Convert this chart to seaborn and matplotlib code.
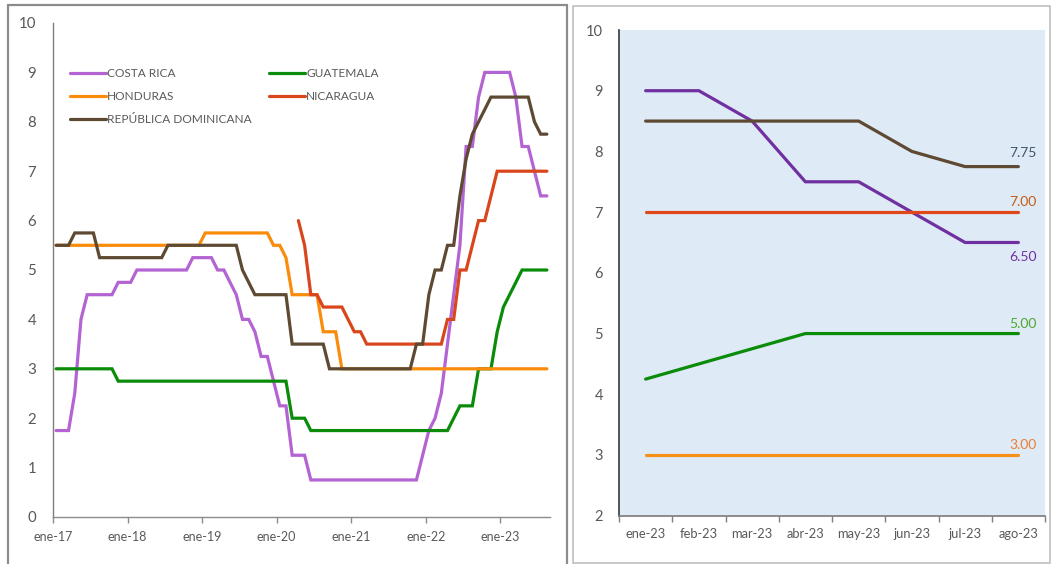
import numpy as np
import pandas as pd
import matplotlib
matplotlib.use("Agg")
import matplotlib.pyplot as plt
from matplotlib.patches import Rectangle
import seaborn as sns

# ---------------- data ----------------
nan = np.nan
year_labels = ["ene-17", "ene-18", "ene-19", "ene-20", "ene-21", "ene-22", "ene-23"]
month_labels = ["ene-23", "feb-23", "mar-23", "abr-23", "may-23", "jun-23", "jul-23", "ago-23"]

costa_rica = ([1.75] * 3 + [2.5, 4.0] + [4.5] * 5 + [4.75] * 3 + [5.0] * 9 + [5.25] * 4 +
              [5.0] * 2 + [4.75, 4.5] + [4.0] * 2 + [3.75] + [3.25] * 2 + [2.75] + [2.25] * 2 +
              [1.25] * 3 + [0.75] * 18 +
              [1.25, 1.75, 2.0, 2.5, 3.5, 4.5, 5.5, 7.5, 7.5, 8.5, 9.0, 9.0, 9.0, 9.0, 9.0,
               8.5, 7.5, 7.5, 7.0, 6.5, 6.5])
guatemala = ([3.0] * 10 + [2.75] * 28 + [2.0] * 3 + [1.75] * 23 + [2.0] + [2.25] * 3 +
             [3.0] * 3 + [3.75, 4.25, 4.5, 4.75] + [5.0] * 5)
honduras = ([5.5] * 24 + [5.75] * 11 + [5.5] * 2 + [5.25] + [4.5] * 5 + [3.75] * 3 + [3.0] * 34)
nicaragua = ([nan] * 39 + [6.0, 5.5] + [4.5] * 2 + [4.25] * 4 + [4.0] + [3.75] * 2 + [3.5] * 13 +
             [4.0] * 2 + [5.0] * 2 + [5.5] + [6.0] * 2 + [6.5] + [7.0] * 9)
rep_dominicana = ([5.5] * 3 + [5.75] * 4 + [5.25] * 11 + [5.5] * 12 + [5.0, 4.75] + [4.5] * 6 +
                  [3.5] * 6 + [3.0] * 14 + [3.5] * 2 + [4.5] + [5.0] * 2 + [5.5] * 2 +
                  [6.5, 7.25, 7.75, 8.0, 8.25] + [8.5] * 7 + [8.0] + [7.75] * 2)

series_names = ["COSTA RICA", "GUATEMALA", "HONDURAS", "NICARAGUA", "REPÚBLICA DOMINICANA"]
series_values = [costa_rica, guatemala, honduras, nicaragua, rep_dominicana]
left_colors = ["#B463D3", "#0A8C0A", "#FA8C0C", "#D9461C", "#5E4A32"]
right_colors = ["#7030A0", "#0A8C0A", "#F7901A", "#E0481A", "#5E4A32"]
label_colors = ["#7030A0", "#4EA72E", "#ED7D31", "#C55A11", "#44546A"]
label_offsets = [-10.5, 7.0, 7.0, 7.5, 9.5]

n_months = len(costa_rica)
rows = []
for name, vals in zip(series_names, series_values):
    for i, v in enumerate(vals):
        rows.append({"pais": name, "mes": i, "tasa": v})
df = pd.DataFrame(rows)

# right panel: last 8 months (ene-23 .. ago-23)
df_r = df[df["mes"] >= n_months - 8].copy()
df_r["pos"] = df_r["mes"] - (n_months - 8)

# ---------------- figure ----------------
sns.set_theme(style="white")
plt.rcParams["font.family"] = ["Lato", "DejaVu Sans"]
tick_col = "#595959"

fig = plt.figure(figsize=(10.51, 5.64), dpi=100)

# panel frames
fig.patches.append(Rectangle((8 / 1051, -0.01), (567 - 8) / 1051, 1 - 5 / 564 + 0.01,
                             transform=fig.transFigure, fill=False, ec="#8C8C8C", lw=1.6))
fig.patches.append(Rectangle((573 / 1051, 1 - 563 / 564), (1050 - 573) / 1051, (563 - 6) / 564,
                             transform=fig.transFigure, fill=False, ec="#BFBFBF", lw=1.2))

# ---- left panel ----
axL = fig.add_axes([53 / 1051, 1 - 517 / 564, (550 - 53) / 1051, (517 - 23) / 564])
handles = {}
for name, col in zip(series_names, left_colors):
    sub = df[df["pais"] == name].dropna()
    sns.lineplot(data=sub, x="mes", y="tasa", ax=axL, color=col, lw=2.3, label=name,
                 estimator=None, solid_joinstyle="miter")
    handles[name] = axL.get_lines()[-1]
axL.set_xlim(-0.5, n_months - 0.5)
axL.set_ylim(0, 10)
axL.set_yticks(range(0, 11))
axL.set_xticks([12 * k - 0.5 for k in range(len(year_labels))])
axL.set_xticklabels(year_labels)
axL.set_xlabel("")
axL.set_ylabel("")
for s in ["top", "right"]:
    axL.spines[s].set_visible(False)
axL.spines["left"].set_color("#7F7F7F")
axL.spines["bottom"].set_color("#8C8C8C")
axL.spines["left"].set_linewidth(1.0)
axL.spines["bottom"].set_linewidth(1.0)
axL.tick_params(axis="y", length=0, pad=12, labelsize=10.8, labelcolor=tick_col)
axL.tick_params(axis="x", length=4, width=1, color="#8C8C8C", direction="out", pad=6,
                labelsize=9, labelcolor=tick_col, bottom=True)
axL.set_facecolor("white")
# row-major legend order like the reference
leg_order = ["COSTA RICA", "HONDURAS", "REPÚBLICA DOMINICANA", "GUATEMALA", "NICARAGUA"]
leg = axL.legend([handles[n] for n in leg_order], leg_order, loc="upper left", ncol=2,
                 frameon=False, fontsize=8.6, bbox_to_anchor=(0.024, 0.918),
                 borderaxespad=0, handlelength=3.0, handletextpad=0.15,
                 columnspacing=1.4, labelspacing=1.0, labelcolor=tick_col)

# ---- right panel ----
axR = fig.add_axes([619 / 1051, 1 - 515.7 / 564, (1045 - 619) / 1051, (515.7 - 30) / 564])
axR.set_facecolor("#DEEAF6")
for name, col, lcol, dy in zip(series_names, right_colors, label_colors, label_offsets):
    sub = df_r[df_r["pais"] == name]
    sns.lineplot(data=sub, x="pos", y="tasa", ax=axR, color=col, lw=2.3, legend=False,
                 estimator=None)
    last = sub.iloc[-1]
    axR.annotate(f"{last['tasa']:.2f}", (last["pos"], last["tasa"]), xytext=(3, dy),
                 textcoords="offset points", ha="center", va="center", fontsize=10,
                 color=lcol)
axR.set_xlim(-0.5, 7.5)
axR.set_ylim(2, 10)
axR.set_yticks(range(2, 11))
axR.set_xticks(range(8))
axR.set_xticklabels(month_labels)
axR.set_xticks([k - 0.5 for k in range(9)], minor=True)
axR.set_xlabel("")
axR.set_ylabel("")
for s in ["top", "right"]:
    axR.spines[s].set_visible(False)
axR.spines["left"].set_color("#404040")
axR.spines["bottom"].set_color("#7F7F7F")
axR.tick_params(axis="y", length=0, pad=11.5, labelsize=10.5, labelcolor=tick_col)
axR.tick_params(axis="x", which="major", length=0, pad=9, labelsize=9.3, labelcolor=tick_col)
axR.tick_params(axis="x", which="minor", length=4, width=1, color="#7F7F7F", direction="out",
                bottom=True)

fig.savefig("out.png", dpi=100, facecolor="white")
